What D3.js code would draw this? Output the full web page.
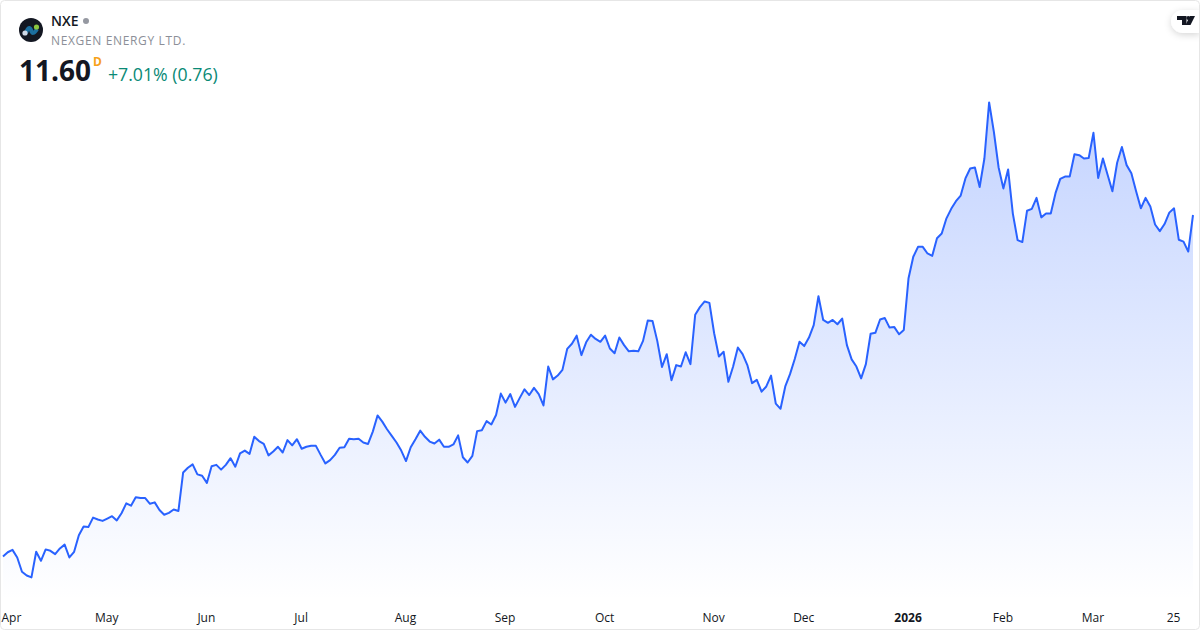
<!DOCTYPE html>
<html>
<head>
<meta charset="utf-8">
<script src="https://cdn.jsdelivr.net/npm/d3@7/dist/d3.min.js"></script>
<style>
html,body{margin:0;padding:0;background:#fff;}
svg{display:block;font-family:"Open Sans",sans-serif;}
.tick text{font-family:"Open Sans",sans-serif;font-size:12px;fill:#131722;}
</style>
</head>
<body>
<svg id="chart" width="1200" height="630"></svg>
<script>
const ticker = "NXE";
const companyName = "NEXGEN ENERGY LTD.";
const lastPrice = "11.60";
const intervalLabel = "D";
const changeLabel = "+7.01% (0.76)";

const closes = [
4.41,4.50,4.55,4.39,4.09,4.01,3.97,4.51,4.32,4.56,4.53,4.46,4.58,4.66,4.39,4.51,4.86,5.04,5.03,5.23,5.19,
5.16,5.21,5.26,5.17,5.32,5.53,5.48,5.66,5.64,5.64,5.52,5.55,5.39,5.29,5.33,5.40,5.37,6.18,6.28,6.35,6.14,
6.11,5.96,6.31,6.34,6.24,6.34,6.48,6.30,6.58,6.64,6.57,6.93,6.84,6.78,6.54,6.62,6.72,6.60,6.86,6.75,6.88,
6.68,6.72,6.74,6.74,6.55,6.37,6.44,6.55,6.70,6.71,6.89,6.88,6.89,6.81,6.78,7.04,7.38,7.25,7.09,6.95,6.81,6.64,6.42,
6.71,6.88,7.06,6.93,6.83,6.79,6.87,6.72,6.72,6.77,6.96,6.50,6.39,6.53,7.05,7.07,7.26,7.19,7.39,7.84,
7.65,7.83,7.56,7.75,7.93,7.81,7.96,7.83,7.59,8.41,8.14,8.22,8.34,8.78,8.89,9.06,8.65,8.92,9.08,8.99,8.93,
9.06,8.79,8.69,9.02,8.86,8.73,8.74,8.73,8.95,9.38,9.37,8.95,8.40,8.67,8.12,8.44,8.41,8.71,8.46,9.50,9.66,9.78,9.75,
9.11,8.62,8.72,8.09,8.41,8.81,8.67,8.44,8.06,8.13,7.88,7.99,8.22,7.63,7.52,7.99,8.25,8.57,8.93,
8.84,9.02,9.28,9.89,9.39,9.33,9.39,9.30,9.42,8.86,8.56,8.41,8.16,8.46,9.10,9.12,9.40,9.43,9.23,9.24,9.09,9.18,
10.27,10.72,10.93,10.93,10.79,10.74,11.11,11.21,11.53,11.73,11.89,12.01,12.37,12.58,12.60,12.19,12.79,13.97,13.35,12.60,
12.16,12.56,11.63,11.07,11.03,11.69,11.73,11.96,11.55,11.63,11.63,12.06,12.36,12.41,12.41,12.88,12.86,12.79,12.80,
13.33,12.38,12.79,12.44,12.10,12.70,13.03,12.65,12.48,12.10,11.74,11.96,11.78,11.40,11.26,11.41,11.65,11.74,11.08,11.04,10.83,11.60
];
const tickIndexes = [0,22,43,63,85,106,127,150,169,191,211,230,247];
const tickLabels = ["Apr","May","Jun","Jul","Aug","Sep","Oct","Nov","Dec","2026","Feb","Mar","25"];
const boldTickLabels = ["2026"];

const svg = d3.select("#chart");
const x = d3.scaleLinear().domain([0, closes.length - 1]).range([3, 1193]);
const y = d3.scaleLinear().domain([4, 14]).range([576, 101]);
const areaBottom = 600;

const defs = svg.append("defs");
const grad = defs.append("linearGradient").attr("id","fillGrad")
  .attr("gradientUnits","userSpaceOnUse").attr("x1",0).attr("x2",0).attr("y1",101).attr("y2",areaBottom);
grad.append("stop").attr("offset","0%").attr("stop-color","#2962FF").attr("stop-opacity",0.28);
grad.append("stop").attr("offset","100%").attr("stop-color","#2962FF").attr("stop-opacity",0.0);
const shadow = defs.append("filter").attr("id","tabShadow").attr("x","-40%").attr("y","-40%").attr("width","180%").attr("height","200%");
shadow.append("feDropShadow").attr("dx",0).attr("dy",2).attr("stdDeviation",3.5).attr("flood-color","#000").attr("flood-opacity",0.16);

svg.append("path").datum(closes)
  .attr("d", d3.area().x((d,i)=>x(i)).y0(areaBottom).y1(d=>y(d)))
  .attr("fill","url(#fillGrad)");
svg.append("path").datum(closes)
  .attr("d", d3.line().x((d,i)=>x(i)).y(d=>y(d)))
  .attr("fill","none").attr("stroke","#2962FF").attr("stroke-width",2).attr("stroke-linejoin","round");

const axis = d3.axisBottom(x).tickValues(tickIndexes)
  .tickFormat((d,i)=>tickLabels[i]).tickSize(0).tickPadding(0);
const axisG = svg.append("g").attr("transform","translate(-1,613)").call(axis);
axisG.select(".domain").remove();
axisG.selectAll(".tick text").attr("y",0).attr("dy","0.71em")
  .style("font-weight",d=>boldTickLabels.includes(tickLabels[tickIndexes.indexOf(d)])?"700":"400");
axisG.selectAll(".tick").filter(d=>d===0).select("text").attr("text-anchor","start").attr("x",-1);

// Logo
const logo = svg.append("g").attr("transform","translate(31,30)");
logo.append("circle").attr("r",12).attr("fill","#131722");
logo.append("path").attr("d","M-5,3 C-3,-3 -1,-3 0,0 C1,4 3,4 6,-1").attr("fill","none").attr("stroke","#1b6fa0").attr("stroke-width",4);
logo.append("circle").attr("cx",5.5).attr("cy",-3).attr("r",2.6).attr("fill","#8cc63f");
logo.append("circle").attr("cx",-6).attr("cy",3).attr("r",2.6).attr("fill","#cfd8e6");

// Header text
svg.append("text").attr("x",51).attr("y",26).attr("font-size",14).attr("font-weight",600).attr("fill","#131722").text(ticker);
svg.append("circle").attr("cx",86).attr("cy",21).attr("r",3).attr("fill","#9598a1");
svg.append("text").attr("x",51).attr("y",45).attr("font-size",12).attr("letter-spacing",0.65).attr("fill","#8c8f98").text(companyName);
svg.append("text").attr("x",19).attr("y",81).attr("font-size",28).attr("font-weight",700).attr("fill","#131722").text(lastPrice);
svg.append("text").attr("x",93).attr("y",66).attr("font-size",12).attr("font-weight",700).attr("fill","#f7a11a").text(intervalLabel);
svg.append("text").attr("x",108).attr("y",81).attr("font-size",17.7).attr("fill","#0a8a76").text(changeLabel);

// TradingView badge
svg.append("path").attr("d","M1200,10 H1183 A12,12 0 0 0 1171,22 A12,12 0 0 0 1183,33 H1200 Z").attr("fill","#fff").attr("filter","url(#tabShadow)");
svg.append("path").attr("d","M1177,16 H1186.5 V25 H1182 V20 H1177 Z").attr("fill","#131722");
svg.append("circle").attr("cx",1188.3).attr("cy",18).attr("r",2).attr("fill","#131722");
svg.append("path").attr("d","M1190,16 H1195 L1190.5,25 H1185.5 Z").attr("fill","#131722");

// Card border
svg.append("rect").attr("x",0.5).attr("y",0.5).attr("width",1199).attr("height",629).attr("rx",4)
  .attr("fill","none").attr("stroke","#e6e6e6");
</script>
</body>
</html>
